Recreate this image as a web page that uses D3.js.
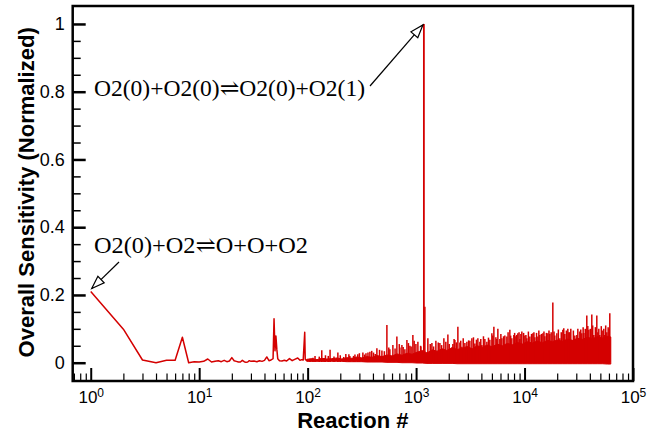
<!DOCTYPE html>
<html lang="en">
<head>
<meta charset="UTF-8">
<title>Overall Sensitivity</title>
<script src="https://d3js.org/d3.v7.min.js"></script>
<style>
  body { margin: 0; background: #fff; }
  svg { display: block; }
</style>
</head>
<body>
<svg id="chart" width="660" height="433"></svg>
<script>
// reactions 1..100, read one by one
var earlyRxn = [1,2,3,4,5,6,7,8,9,10,11,12,13,14,15,16,17,18,19,20,21,22,23,24,25,26,27,28,29,30,
  32,34,36,38,40,42,44,46,48,49,50,51,52,53,55,58,61,64,68,72,76,81,85,88,91,94,95,97,100];
var earlySens = [0.21,0.099,0.008,0.0,0.007,0.007,0.075,0.0,0.003,0.002,0.004,0.011,0.002,0.004,0.006,0.003,0.007,0.003,0.005,0.015,
  0.006,0.004,0.002,0.002,0.007,0.003,0.001,0.002,0.006,0.004,
  0.005,0.003,0.006,0.004,0.007,0.017,0.006,0.008,0.012,0.13,0.035,0.079,0.04,0.012,
  0.006,0.005,0.007,0.005,0.012,0.006,0.01,0.014,0.007,0.009,0.008,0.09,0.01,0.007,0.008];

// dense part (>100): envelope of the solid band
var bandRxn = [98,110,122,135,150,167,186,207,230,256,285,317,352,392,436,485,539,600,667,742,826,918,
  1020,1140,1260,1410,1560,1740,1930,2150,2390,2660,2960,3290,3660,4080,4530,5040,5610,6240,6940,7720,
  8580,9550,10600,11800,13100,14600,16300,18100,20100,22400,24900,27700,30800,34200,38100,42400,47100,
  52400,58300,62400];
var bandTop = [0.010,0.012,0.009,0.013,0.011,0.012,0.014,0.011,0.015,0.013,0.017,0.014,0.018,0.016,0.021,0.018,
  0.023,0.020,0.026,0.022,0.028,0.025,0.031,0.036,0.029,0.038,0.034,0.041,0.036,0.045,0.039,0.043,0.048,
  0.041,0.050,0.046,0.052,0.047,0.055,0.050,0.057,0.053,0.060,0.055,0.062,0.058,0.064,0.059,0.066,0.062,
  0.067,0.063,0.070,0.066,0.072,0.069,0.075,0.071,0.077,0.073,0.078,0.076];
var bandLow = [0.004,0.004,0.004,0.004,0.004,0.004,0.004,0.004,0.003,0.003,0.003,0.003,0.002,0.002,0.002,0.002,
  0.001,0.001,0.001,0.0,0.0,0.0,-0.001,-0.001,-0.002,-0.002,-0.002,-0.002,-0.002,-0.002,-0.003,-0.003,-0.003,
  -0.003,-0.003,-0.003,-0.003,-0.003,-0.003,-0.003,-0.003,-0.003,-0.003,-0.003,-0.003,-0.003,-0.003,-0.003,
  -0.003,-0.003,-0.003,-0.003,-0.003,-0.003,-0.003,-0.003,-0.003,-0.003,-0.003,-0.003,-0.004,-0.004];

// individual peaks sticking out of the band
var spikeRxn = [117,135,146,161,190,225,245,273,290,323,345,375,405,435,484,538,573,611,665,709,740,788,823,877,
  934,996,1039,1107,1180,1205,1284,1399,1522,1657,1804,1964,2094,2183,2279,2428,2534,2643,2818,2939,3133,
  3268,3483,3712,3873,4042,4306,4494,4787,4997,5214,5440,5675,5918,6180,6581,6871,7320,7636,7966,8318,8672,
  9054,9444,10070,10500,11190,11930,12450,13270,13840,14750,15390,16400,17110,18230,19020,19850,21160,22540,
  23510,25070,26140,27290,29080,30340,32330,33730,35230,37500,39150,41700,43510,46380,47400,49400,52710,
  54950,57380,61100,
  105,112,128,142,155,175,200,215,240,265,300,335,360,390,420,460,510,560,640,700,760,850,900,960,
  1100,1350,1450,1600,1720,1880,2020,2240,2350,2580,2720,3050,3380,3600,3950,4180,4650,5100,5550,6050,
  6400,7050,7450,8100,8450,8900,9250,9800,10300,10850,11600,12200,12900,13550,14300,15100,15900,16800,
  17600,18700,20500,21800,23000,24300,25600,26700,28200,31000,33000,34700,36300,38300,40400,42500,45000,
  48400,51000,53800,56000,59000,60200];
var spikeVal = [0.02,0.037,0.022,0.038,0.03,0.026,0.02,0.024,0.025,0.03,0.028,0.032,0.03,0.043,0.036,0.111,0.04,
  0.052,0.077,0.045,0.052,0.04,0.067,0.05,0.082,0.055,0.062,0.048,1.0,0.165,0.072,0.058,0.065,0.058,0.072,
  0.083,0.04,0.055,0.067,0.106,0.06,0.047,0.058,0.062,0.065,0.072,0.057,0.072,0.062,0.052,0.07,0.062,0.068,
  0.087,0.106,0.075,0.1,0.07,0.072,0.08,0.077,0.097,0.072,0.082,0.078,0.087,0.07,0.092,0.08,0.072,0.077,
  0.087,0.075,0.077,0.082,0.087,0.078,0.087,0.085,0.178,0.08,0.087,0.072,0.097,0.085,0.1,0.09,0.067,0.08,
  0.082,0.092,0.087,0.088,0.139,0.097,0.142,0.082,0.139,0.09,0.082,0.095,0.082,0.09,0.146,
  0.012,0.015,0.018,0.014,0.02,0.018,0.022,0.017,0.025,0.02,0.028,0.024,0.03,0.035,0.026,0.038,0.034,0.045,
  0.042,0.055,0.046,0.058,0.048,0.065,
  0.05,0.055,0.048,0.06,0.052,0.062,0.055,0.07,0.06,0.065,0.072,0.066,0.075,0.068,0.07,0.078,0.074,0.08,
  0.07,0.085,0.078,0.09,0.08,0.088,0.082,0.09,0.085,0.088,0.082,0.092,0.085,0.09,0.088,0.095,0.085,0.092,
  0.088,0.095,0.09,0.092,0.098,0.09,0.102,0.095,0.09,0.1,0.095,0.1,0.098,0.105,0.1,0.108,0.1,0.11,0.105,
  0.1,0.108,0.1,0.11,0.105,0.1];

var yMajor = [0, 0.2, 0.4, 0.6, 0.8, 1];
var xMajor = [1, 10, 100, 1000, 10000, 100000];

var note1 = "O2(0)+O2(0)\u21CCO2(0)+O2(1)";
var note2 = "O2(0)+O2\u21CCO+O+O2";

var red = "#d40000";
var svg = d3.select("#chart");
var boxL = 72.7, boxR = 633, boxT = 6, boxB = 381;

var x = d3.scaleLog().domain([0.682, 1e5]).range([boxL, boxR]);
var y = d3.scaleLinear().domain([-0.054, 1.053]).range([boxB, boxT]);

// minor tick values
var xMinor = [];
[0.1, 1, 10, 100, 1000, 10000].forEach(function(p) {
  for (var k = 2; k <= 9; k++) {
    var v = k * p;
    if (v >= 0.682 && v < 1e5) xMinor.push(v);
  }
});
var yMinor = d3.range(0, 1.04, 0.05).filter(function(v) {
  return Math.abs(v * 5 - Math.round(v * 5)) > 1e-6;
});

// ---- data
var plot = svg.append("g");

var band = bandRxn.map(function(r, i) { return {r: r, hi: bandTop[i], lo: bandLow[i]}; });
plot.append("path")
  .datum(band)
  .attr("fill", red)
  .attr("stroke", red)
  .attr("stroke-width", 1)
  .attr("d", d3.area()
    .x(function(d) { return x(d.r); })
    .y0(function(d) { return y(d.lo); })
    .y1(function(d) { return y(d.hi); }));

plot.selectAll(".spike")
  .data(spikeRxn.map(function(r, i) { return [r, spikeVal[i]]; }))
  .enter().append("line")
  .attr("class", "spike")
  .attr("x1", function(d) { return x(d[0]); })
  .attr("x2", function(d) { return x(d[0]); })
  .attr("y1", y(0.002))
  .attr("y2", function(d) { return y(d[1]); })
  .attr("stroke", red)
  .attr("stroke-width", function(d) { return d[1] > 0.5 ? 1.8 : 1.5; });

plot.append("path")
  .datum(earlyRxn.map(function(r, i) { return [r, earlySens[i]]; }))
  .attr("fill", "none")
  .attr("stroke", red)
  .attr("stroke-width", 1.5)
  .attr("stroke-linejoin", "round")
  .attr("d", d3.line()
    .x(function(d) { return x(d[0]); })
    .y(function(d) { return y(d[1]); }));

// ---- axes
var tickFont = "'Liberation Sans', Arial, Helvetica, sans-serif";

var gx = svg.append("g").attr("transform", "translate(0," + boxB + ")");
gx.call(d3.axisBottom(x).tickValues(xMinor).tickSize(-7.5).tickFormat(""));
gx.select(".domain").remove();
gx.selectAll("line").attr("stroke-width", 1.2);

var gxM = svg.append("g").attr("transform", "translate(0," + boxB + ")");
gxM.call(d3.axisBottom(x).tickValues(xMajor).tickSize(-13).tickPadding(10)
  .tickFormat(function(d) { return "10"; }));
gxM.select(".domain").remove();
gxM.selectAll("line").attr("stroke-width", 2);
gxM.selectAll("text")
  .attr("font-family", tickFont)
  .attr("font-size", "17px")
  .attr("fill", "#000")
  .each(function(d) {
    d3.select(this).append("tspan")
      .attr("dy", "-0.5em")
      .attr("font-size", "12px")
      .text(Math.round(Math.log10(d)));
  });

var gy = svg.append("g").attr("transform", "translate(" + boxL + ",0)");
gy.call(d3.axisLeft(y).tickValues(yMinor).tickSize(-8).tickFormat(""));
gy.select(".domain").remove();
gy.selectAll("line").attr("stroke-width", 1.5);

var gyM = svg.append("g").attr("transform", "translate(" + boxL + ",0)");
gyM.call(d3.axisLeft(y).tickValues(yMajor).tickSize(-13).tickPadding(8).tickFormat(d3.format("~g")));
gyM.select(".domain").remove();
gyM.selectAll("line").attr("stroke-width", 2.5);
gyM.selectAll("text")
  .attr("font-family", tickFont)
  .attr("font-size", "18px")
  .attr("fill", "#000");

// frame
svg.append("rect")
  .attr("x", boxL).attr("y", boxT)
  .attr("width", boxR - boxL).attr("height", boxB - boxT)
  .attr("fill", "none")
  .attr("stroke", "#000")
  .attr("stroke-width", 2.5);

// axis titles
svg.append("text")
  .attr("x", (boxL + boxR) / 2)
  .attr("y", 428)
  .attr("text-anchor", "middle")
  .attr("font-family", tickFont)
  .attr("font-weight", "bold")
  .attr("font-size", "22px")
  .text("Reaction #");

svg.append("text")
  .attr("transform", "translate(34," + ((y(0) + y(1)) / 2 - 1) + ") rotate(-90)")
  .attr("text-anchor", "middle")
  .attr("font-family", tickFont)
  .attr("font-weight", "bold")
  .attr("font-size", "22px")
  .text("Overall Sensitivity (Normalized)");

// ---- annotations
var serif = "'Liberation Serif', 'DejaVu Serif', 'Times New Roman', serif";

function arrow(x0, y0, x1, y1) {
  svg.append("line")
    .attr("x1", x0).attr("y1", y0).attr("x2", x1).attr("y2", y1)
    .attr("stroke", "#000").attr("stroke-width", 1.2);
  var a = Math.atan2(y1 - y0, x1 - x0), len = 13, w = 4.5;
  var bx = x1 - len * Math.cos(a), by = y1 - len * Math.sin(a);
  var px = -Math.sin(a) * w, py = Math.cos(a) * w;
  svg.append("path")
    .attr("d", "M" + x1 + "," + y1 + "L" + (bx + px) + "," + (by + py) + "L" + (bx - px) + "," + (by - py) + "Z")
    .attr("fill", "#fff").attr("stroke", "#000").attr("stroke-width", 1.2);
}

svg.append("text")
  .attr("x", 94).attr("y", 96)
  .attr("font-family", serif).attr("font-size", "23.5px")
  .attr("textLength", 271).attr("lengthAdjust", "spacingAndGlyphs")
  .text(note1);
arrow(370, 86, x(1180) - 1, y(1) + 1);

svg.append("text")
  .attr("x", 94).attr("y", 253)
  .attr("font-family", serif).attr("font-size", "23.5px")
  .attr("textLength", 214).attr("lengthAdjust", "spacingAndGlyphs")
  .text(note2);
arrow(119, 262, x(1) + 1, y(0.21) - 3);
</script>
</body>
</html>
